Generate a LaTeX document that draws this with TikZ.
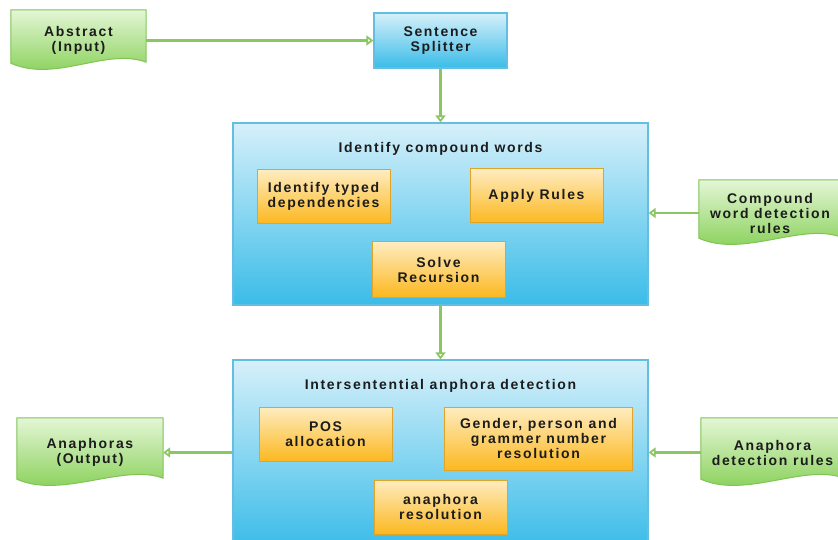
\documentclass[tikz,border=0pt]{standalone}
\usepackage{fontspec}
\setmainfont{Liberation Sans}[LetterSpace=12]
\usetikzlibrary{arrows.meta,backgrounds}

\definecolor{bluetop}{RGB}{214,240,250}
\definecolor{bluebot}{RGB}{58,188,232}
\definecolor{blueline}{RGB}{100,190,225}
\definecolor{orangetop}{RGB}{254,236,192}
\definecolor{orangebot}{RGB}{252,184,32}
\definecolor{orangeline}{RGB}{222,165,40}
\definecolor{greentop}{RGB}{228,246,214}
\definecolor{greenbot}{RGB}{124,204,72}
\definecolor{greenline}{RGB}{128,196,86}
\definecolor{flowgreen}{RGB}{140,198,98}
\definecolor{txt}{RGB}{28,28,28}

% document shape with a wavy lower edge, drawn round a named node
\newcommand{\docshape}[1]{%
  \path[draw=greenline, line width=1pt, top color=greentop, bottom color=greenbot]
    (#1.north west) -- (#1.north east) -- ([yshift=9pt]#1.south east)
    .. controls ([xshift=-40pt,yshift=24pt]#1.south east)
    and ([xshift=45pt,yshift=-12pt]#1.south west) .. ([yshift=8pt]#1.south west) -- cycle;}

\begin{document}
\begin{tikzpicture}[
		x=1pt, y=-1pt
		,font=\bfseries\fontsize{14pt}{15pt}\selectfont
		,doc/.style={inner sep=0pt, align=center, text=txt}
		,stage/.style={draw=blueline, line width=1.2pt, top color=bluetop, bottom color=bluebot, inner sep=0pt, align=center, text=txt}
		,task/.style={draw=orangeline, line width=1pt, top color=orangetop, bottom color=orangebot, minimum width=133pt, minimum height=54pt, inner sep=0pt, align=center, text=txt}
		,heading/.style={inner sep=0pt, text=txt}
		,flow/.style={draw=flowgreen, line width=2.8pt, -{Triangle[open, length=7pt, width=10pt, line width=1.8pt]}}
	]
		\useasboundingbox (0,0) rectangle (838,540);
		\clip (0,0) rectangle (838,540);

		\node[stage, minimum width=133pt, minimum height=55pt] (split) at (440.5,40.5) {Sentence\\Splitter};
		\node[stage, minimum width=415pt, minimum height=182pt] (compound) at (440.5,214) {};
		\node[stage, minimum width=415pt, minimum height=188pt] (anaphora) at (440.5,454) {};

		\node[heading] (ctitle) at (440.5,149) {Identify compound words};
		\node[task] (typed) at (323.5,196.5) {Identify typed\\dependencies};
		\node[task] (rules) at (536.5,196) {Apply Rules};
		\node[task, minimum height=55pt] (recursion) at (438.5,269.5) {Solve\\Recursion};

		\node[heading] (atitle) at (440.5,386) {Intersentential anphora detection};
		\node[task] (pos) at (325.5,434) {POS\\allocation};
		\node[task, minimum width=188pt, minimum height=63pt] (gender) at (538.5,438.5) {Gender, person and\\grammer number\\resolution};
		\node[task] (resolve) at (440.5,507) {anaphora\\resolution};

		\node[doc, minimum width=135pt, minimum height=61pt] (abstract) at (78.5,40.5) {Abstract\\(Input)};
		\node[doc, minimum width=142pt, minimum height=66pt] (crules) at (770,213) {Compound\\word detection\\rules};
		\node[doc, minimum width=146pt, minimum height=69pt] (output) at (90,452.5) {Anaphoras\\(Output)};
		\node[doc, minimum width=143pt, minimum height=69pt] (arules) at (772.5,452.5) {Anaphora\\detection rules};

		\begin{scope}[on background layer]
			\docshape{abstract}
			\docshape{crules}
			\docshape{output}
			\docshape{arules}
		\end{scope}

		\draw[flow] (abstract.east) -- (split.west);
		\draw[flow] (split) -- (compound);
		\draw[flow] (compound) -- (anaphora);
		\draw[flow] (crules.west) -- (crules.west -| compound.east);
		\draw[flow] (output.east -| anaphora.west) -- (output.east);
		\draw[flow] (arules.west) -- (arules.west -| anaphora.east);
	\end{tikzpicture}
\end{document}
